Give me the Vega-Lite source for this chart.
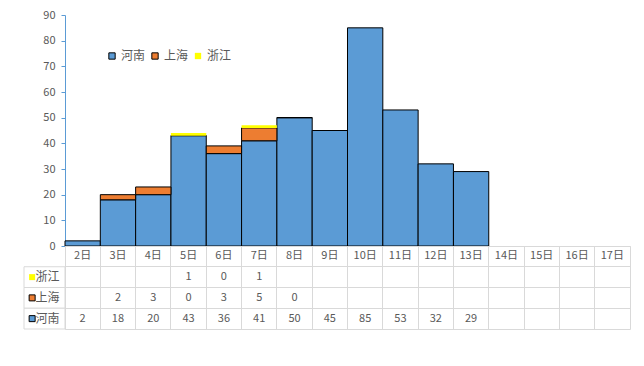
{
  "$schema": "https://vega.github.io/schema/vega-lite/v6.json",
  "background": "white",
  "padding": {"left": 23, "top": 9, "right": 5, "bottom": 5},
  "config": {
    "font": "Noto Sans CJK SC",
    "view": {"stroke": null},
    "axis": {"labelColor": "#595959", "labelFontSize": 11},
    "legend": {"symbolType": "square"}
  },
  "datasets": {
    "cases": [
      {"day": "2日", "series": "河南", "value": 2},
      {"day": "3日", "series": "河南", "value": 18},
      {"day": "4日", "series": "河南", "value": 20},
      {"day": "5日", "series": "河南", "value": 43},
      {"day": "6日", "series": "河南", "value": 36},
      {"day": "7日", "series": "河南", "value": 41},
      {"day": "8日", "series": "河南", "value": 50},
      {"day": "9日", "series": "河南", "value": 45},
      {"day": "10日", "series": "河南", "value": 85},
      {"day": "11日", "series": "河南", "value": 53},
      {"day": "12日", "series": "河南", "value": 32},
      {"day": "13日", "series": "河南", "value": 29},
      {"day": "3日", "series": "上海", "value": 2},
      {"day": "4日", "series": "上海", "value": 3},
      {"day": "5日", "series": "上海", "value": 0},
      {"day": "6日", "series": "上海", "value": 3},
      {"day": "7日", "series": "上海", "value": 5},
      {"day": "8日", "series": "上海", "value": 0},
      {"day": "5日", "series": "浙江", "value": 1},
      {"day": "6日", "series": "浙江", "value": 0},
      {"day": "7日", "series": "浙江", "value": 1}
    ],
    "days": [
      {"day": "2日"}, {"day": "3日"}, {"day": "4日"}, {"day": "5日"},
      {"day": "6日"}, {"day": "7日"}, {"day": "8日"}, {"day": "9日"},
      {"day": "10日"}, {"day": "11日"}, {"day": "12日"}, {"day": "13日"},
      {"day": "14日"}, {"day": "15日"}, {"day": "16日"}, {"day": "17日"}
    ],
    "series": [{"series": "浙江"}, {"series": "上海"}, {"series": "河南"}]
  },
  "columns": 2,
  "spacing": 0,
  "bounds": "flush",
  "resolve": {
    "scale": {"x": "independent", "y": "independent", "color": "independent", "stroke": "independent"},
    "legend": {"color": "independent", "stroke": "independent"}
  },
  "concat": [
    {
      "width": 41,
      "height": 231,
      "data": {"values": [{}]},
      "mark": {"type": "text"},
      "encoding": {"text": {"value": ""}}
    },
    {
      "width": 565,
      "height": 231,
      "data": {"name": "cases"},
      "transform": [
        {"stack": "value", "groupby": ["day"], "as": ["v0", "v1"]}
      ],
      "mark": {"type": "bar", "strokeWidth": 1},
      "encoding": {
        "x": {
          "field": "day", "type": "nominal",
          "scale": {"domain": ["2日","3日","4日","5日","6日","7日","8日","9日","10日","11日","12日","13日","14日","15日","16日","17日"], "paddingInner": 0, "paddingOuter": 0},
          "axis": null
        },
        "y": {
          "field": "v0", "type": "quantitative",
          "scale": {"domain": [0, 90], "nice": false},
          "axis": {
            "title": null, "grid": false,
            "values": [0, 10, 20, 30, 40, 50, 60, 70, 80, 90],
            "domainColor": "#5B9BD5", "tickColor": "#5B9BD5", "tickSize": 4,
            "labelPadding": 6
          }
        },
        "y2": {"field": "v1"},
        "color": {
          "field": "series", "type": "nominal",
          "sort": ["河南", "上海", "浙江"],
          "scale": {"domain": ["河南", "上海", "浙江"], "range": ["#5B9BD5", "#ED7D31", "#FFFF00"]},
          "legend": {
            "title": null, "orient": "none", "direction": "horizontal",
            "legendX": 41, "legendY": 35, "padding": 0,
            "symbolType": "square", "symbolSize": 40, "symbolStrokeWidth": 1,
            "labelFontSize": 12, "labelColor": "#595959", "labelOffset": 3, "columnPadding": 3
          }
        },
        "stroke": {
          "field": "series", "type": "nominal",
          "sort": ["河南", "上海", "浙江"],
          "scale": {"domain": ["河南", "上海", "浙江"], "range": ["#000000", "#000000", "transparent"]},
          "legend": {
            "title": null, "orient": "none", "direction": "horizontal",
            "legendX": 41, "legendY": 35, "padding": 0,
            "symbolType": "square", "symbolSize": 40, "symbolStrokeWidth": 1,
            "labelFontSize": 12, "labelColor": "#595959", "labelOffset": 3, "columnPadding": 3
          }
        }
      }
    },
    {
      "width": 41,
      "height": 83,
      "data": {"name": "series"},
      "layer": [
        {
          "mark": {"type": "rect", "fill": "white", "stroke": "#d9d9d9", "strokeWidth": 1},
          "encoding": {
            "y": {"field": "series", "type": "nominal", "scale": {"type": "band", "domain": ["header", "浙江", "上海", "河南"], "paddingInner": 0, "paddingOuter": 0}, "axis": null}
          }
        },
        {
          "mark": {"type": "square", "size": 36, "opacity": 1, "strokeWidth": 1},
          "encoding": {
            "x": {"datum": "sym", "type": "nominal", "scale": {"type": "point", "domain": ["sym", "label"], "range": [6.5, 13]}, "axis": null},
            "y": {"field": "series", "type": "nominal", "axis": null},
            "fill": {"field": "series", "type": "nominal", "scale": {"domain": ["河南", "上海", "浙江"], "range": ["#5B9BD5", "#ED7D31", "#FFFF00"]}, "legend": null},
            "stroke": {"field": "series", "type": "nominal", "scale": {"domain": ["河南", "上海", "浙江"], "range": ["#000000", "#000000", "transparent"]}, "legend": null}
          }
        },
        {
          "mark": {"type": "text", "align": "left", "baseline": "middle", "fontSize": 12, "color": "#595959"},
          "encoding": {
            "x": {"datum": "label", "type": "nominal"},
            "y": {"field": "series", "type": "nominal", "axis": null},
            "text": {"field": "series"}
          }
        }
      ]
    },
    {
      "width": 565,
      "height": 83,
      "view": {"stroke": "#d9d9d9", "strokeWidth": 1},
      "encoding": {
        "x": {
          "field": "day", "type": "nominal",
          "scale": {"type": "band", "domain": ["2日","3日","4日","5日","6日","7日","8日","9日","10日","11日","12日","13日","14日","15日","16日","17日"], "paddingInner": 0, "paddingOuter": 0},
          "axis": {"title": null, "grid": true, "bandPosition": 0, "gridColor": "#d9d9d9", "labels": false, "ticks": false, "domain": false}
        }
      },
      "layer": [
        {
          "data": {"name": "days"},
          "mark": {"type": "text", "fontSize": 11, "color": "#595959", "baseline": "middle"},
          "encoding": {
            "y": {
              "datum": "header", "type": "nominal",
              "scale": {"type": "band", "domain": ["header", "浙江", "上海", "河南"], "paddingInner": 0, "paddingOuter": 0},
              "axis": {"title": null, "grid": true, "bandPosition": 0, "gridColor": "#d9d9d9", "labels": false, "ticks": false, "domain": false}
            },
            "text": {"field": "day"}
          }
        },
        {
          "data": {"name": "cases"},
          "mark": {"type": "text", "fontSize": 11, "color": "#595959", "baseline": "middle"},
          "encoding": {
            "y": {"field": "series", "type": "nominal"},
            "text": {"field": "value"}
          }
        }
      ]
    }
  ]
}
